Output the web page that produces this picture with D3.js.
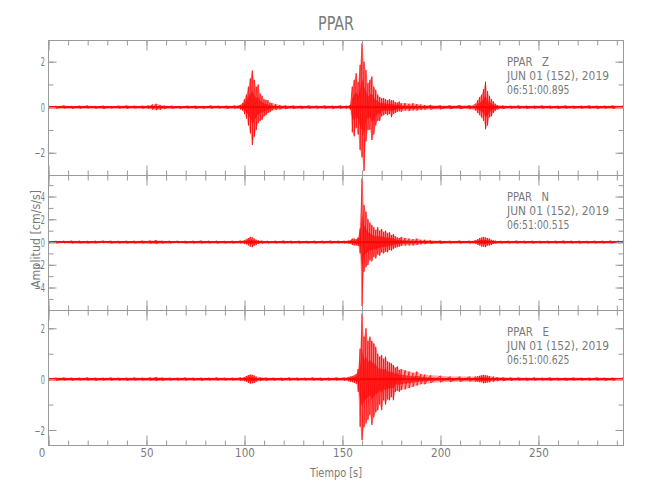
<!DOCTYPE html>
<html>
<head>
<meta charset="utf-8">
<script src="https://cdn.jsdelivr.net/npm/d3@7"></script>
<style>
  html, body { margin: 0; padding: 0; background: #fff; }
  svg { display: block; }
  text { font-family: "Liberation Sans Narrow", "DejaVu Sans Condensed", "Liberation Sans", sans-serif; fill: #7a7a7a; white-space: pre; }
</style>
</head>
<body>
<svg id="chart" width="650" height="500"></svg>
<script>
// ---------------- DATA ----------------
const title = "PPAR";
const xLabel = "Tiempo [s]";
const yLabel = "Amplitud [cm/s/s]";
const xTicksMajor = [0, 50, 100, 150, 200, 250];
const xTicksMinor = d3.range(0, 300, 10);
const xMax = 293.4;

const components = ["Z", "N", "E"];
const stationLines = [
  ["PPAR   Z", "JUN 01 (152), 2019", "06:51:00.895"],
  ["PPAR   N", "JUN 01 (152), 2019", "06:51:00.515"],
  ["PPAR   E", "JUN 01 (152), 2019", "06:51:00.625"]
];
const yDomains = [[-3.0, 2.93], [-6.02, 5.85], [-2.61, 2.70]];
const yTicksMajor = [[-2, 0, 2], [-4, -2, 0, 2, 4], [-2, 0, 2]];
const yTicksMinor = [[-2, -1, 0, 1, 2], [-5, -4, -3, -2, -1, 0, 1, 2, 3, 4, 5], [-2, -1, 0, 1, 2]];

// envelope samples: [time s, upper, lower]
const traceZ = [
  [0,0.06,-0.05],[4,0.05,-0.06],[8,0.07,-0.05],[12,0.05,-0.06],[16,0.06,-0.06],[20,0.07,-0.05],[24,0.05,-0.06],[28,0.06,-0.07],[32,0.05,-0.05],[36,0.06,-0.06],[40,0.07,-0.06],[44,0.06,-0.05],[48,0.06,-0.06],[51,0.07,-0.07],[53,0.12,-0.1],[55,0.15,-0.13],[57,0.1,-0.11],[59,0.07,-0.07],[63,0.06,-0.06],[67,0.05,-0.06],[71,0.06,-0.05],[75,0.06,-0.06],[79,0.05,-0.06],[83,0.07,-0.06],[87,0.06,-0.05],[91,0.06,-0.07],[95,0.07,-0.06],
  [98,0.1,-0.1],[99,0.18,-0.15],[100,0.35,-0.3],[101,0.55,-0.5],[102,0.9,-0.8],[103,1.26,-1.15],[104,1.61,-1.66],[105,1.2,-1.3],[106,0.9,-1.0],[107,1.0,-0.7],[108,0.6,-0.6],[109,0.5,-0.55],[110,0.35,-0.4],[111,0.32,-0.35],[112,0.3,-0.25],[113,0.2,-0.22],[114,0.18,-0.15],[116,0.14,-0.12],[118,0.1,-0.1],[121,0.08,-0.08],[125,0.07,-0.07],[129,0.06,-0.07],[133,0.07,-0.06],[137,0.06,-0.06],[141,0.07,-0.06],[145,0.06,-0.07],[149,0.07,-0.06],[152,0.06,-0.06],[154,0.1,-0.1],
  [155,0.9,-1.1],[156,1.2,-1.28],[157,1.49,-0.9],[158,1.1,-1.2],[159,1.86,-1.88],[160,2.81,-2.2],[161,2.0,-2.8],[162,1.63,-1.5],[163,1.05,-1.0],[164,1.2,-0.99],[165,1.35,-1.44],[166,0.9,-1.2],[167,0.76,-0.8],[168,0.55,-0.6],[169,0.45,-0.6],[170,0.39,-0.4],[171,0.4,-0.35],[172,0.35,-0.3],[173,0.3,-0.35],[174,0.35,-0.3],[175,0.3,-0.44],[176,0.3,-0.3],[177,0.22,-0.25],[178,0.2,-0.2],[179,0.25,-0.18],[180,0.17,-0.2],[182,0.18,-0.15],[184,0.15,-0.17],[186,0.17,-0.14],[188,0.14,-0.15],[190,0.12,-0.12],[192,0.1,-0.11],[195,0.1,-0.1],[200,0.08,-0.09],[205,0.08,-0.08],[210,0.09,-0.08],[215,0.08,-0.09],
  [218,0.15,-0.15],[219,0.3,-0.25],[220,0.45,-0.35],[221,0.55,-0.45],[222,0.8,-0.6],[223,1.12,-0.97],[224,0.7,-0.8],[225,0.5,-0.45],[226,0.35,-0.4],[227,0.25,-0.25],[228,0.15,-0.15],[229,0.1,-0.1],[232,0.07,-0.07],[236,0.06,-0.06],[240,0.07,-0.06],[244,0.06,-0.07],[248,0.06,-0.06],[252,0.07,-0.06],[256,0.06,-0.06],[260,0.06,-0.07],[264,0.07,-0.06],[268,0.06,-0.06],[272,0.06,-0.06],[276,0.07,-0.06],[280,0.06,-0.07],[284,0.06,-0.06],[288,0.07,-0.06],[293.4,0.06,-0.06]
];
const traceN = [
  [0,0.1,-0.1],[4,0.09,-0.1],[8,0.1,-0.09],[12,0.11,-0.1],[16,0.1,-0.1],[20,0.09,-0.11],[24,0.1,-0.1],[28,0.11,-0.09],[32,0.1,-0.1],[36,0.09,-0.1],[40,0.1,-0.11],[44,0.1,-0.1],[48,0.11,-0.1],[52,0.12,-0.12],[55,0.16,-0.15],[58,0.11,-0.11],[62,0.1,-0.1],[66,0.1,-0.09],[70,0.09,-0.1],[74,0.1,-0.1],[78,0.11,-0.1],[82,0.1,-0.1],[86,0.1,-0.11],[90,0.09,-0.1],[94,0.1,-0.1],[98,0.11,-0.11],
  [100,0.15,-0.15],[101,0.25,-0.2],[102,0.35,-0.3],[103,0.45,-0.4],[104,0.4,-0.45],[105,0.3,-0.3],[106,0.2,-0.25],[107,0.15,-0.15],[109,0.12,-0.12],[112,0.1,-0.1],[116,0.1,-0.1],[120,0.11,-0.1],[124,0.1,-0.1],[128,0.1,-0.11],[132,0.09,-0.1],[136,0.1,-0.1],[140,0.1,-0.1],[144,0.11,-0.1],[148,0.1,-0.1],[151,0.1,-0.11],[153,0.12,-0.12],
  [154,0.15,-0.15],[155,0.3,-0.25],[156,0.3,-0.3],[157,0.25,-0.3],[158,0.4,-0.35],[159,1.2,-1.0],[160,5.6,-5.63],[161,3.25,-2.61],[162,2.67,-2.2],[163,2.0,-2.02],[164,1.7,-1.6],[165,1.49,-1.7],[166,1.3,-1.3],[167,1.05,-1.44],[168,1.3,-1.1],[169,1.0,-1.2],[170,1.15,-0.9],[171,0.9,-1.0],[172,1.0,-0.85],[173,0.8,-0.9],[174,0.85,-0.7],[175,0.62,-0.75],[176,0.7,-0.6],[177,0.5,-0.5],[178,0.4,-0.45],[179,0.35,-0.4],[180,0.45,-0.35],[182,0.35,-0.3],[184,0.3,-0.3],[186,0.25,-0.3],[188,0.3,-0.25],[190,0.2,-0.2],[192,0.2,-0.18],[195,0.15,-0.15],[200,0.12,-0.13],[205,0.1,-0.1],[210,0.11,-0.1],[215,0.1,-0.11],
  [218,0.15,-0.15],[219,0.25,-0.25],[220,0.35,-0.3],[221,0.4,-0.4],[222,0.45,-0.4],[223,0.4,-0.45],[224,0.35,-0.3],[225,0.3,-0.3],[226,0.2,-0.25],[227,0.15,-0.15],[228,0.12,-0.12],[231,0.1,-0.1],[235,0.1,-0.1],[239,0.11,-0.1],[243,0.1,-0.1],[247,0.1,-0.11],[251,0.09,-0.1],[255,0.1,-0.1],[259,0.1,-0.1],[263,0.11,-0.1],[267,0.1,-0.1],[271,0.1,-0.11],[275,0.09,-0.1],[279,0.1,-0.1],[283,0.1,-0.1],[287,0.11,-0.1],[291,0.1,-0.1],[293.4,0.1,-0.1]
];
const traceE = [
  [0,0.05,-0.05],[4,0.05,-0.06],[8,0.06,-0.05],[12,0.05,-0.05],[16,0.05,-0.05],[20,0.06,-0.05],[24,0.05,-0.06],[28,0.05,-0.05],[32,0.06,-0.05],[36,0.05,-0.05],[40,0.05,-0.06],[44,0.06,-0.05],[48,0.05,-0.05],[52,0.06,-0.06],[55,0.08,-0.07],[58,0.06,-0.06],[62,0.05,-0.05],[66,0.05,-0.05],[70,0.06,-0.05],[74,0.05,-0.05],[78,0.05,-0.06],[82,0.05,-0.05],[86,0.06,-0.05],[90,0.05,-0.05],[94,0.05,-0.05],[98,0.06,-0.06],
  [100,0.08,-0.08],[101,0.12,-0.1],[102,0.16,-0.15],[103,0.18,-0.18],[104,0.17,-0.16],[105,0.14,-0.15],[106,0.1,-0.1],[108,0.07,-0.07],[111,0.06,-0.06],[115,0.05,-0.05],[119,0.05,-0.06],[123,0.06,-0.05],[127,0.05,-0.05],[131,0.05,-0.05],[135,0.06,-0.05],[139,0.05,-0.06],[143,0.05,-0.05],[147,0.06,-0.05],[151,0.06,-0.06],[153,0.08,-0.08],
  [154,0.1,-0.1],[155,0.12,-0.12],[156,0.15,-0.15],[157,0.2,-0.18],[158,0.4,-0.5],[159,1.2,-1.87],[160,2.58,-2.4],[161,1.67,-1.9],[162,2.0,-1.74],[163,1.5,-1.6],[164,1.67,-1.4],[165,1.5,-1.8],[166,1.4,-1.5],[167,1.27,-1.3],[168,1.0,-1.22],[169,0.88,-1.0],[170,0.95,-1.22],[171,0.8,-0.83],[172,0.88,-1.0],[173,0.7,-0.8],[174,0.65,-0.83],[175,0.62,-0.7],[176,0.55,-0.83],[177,0.45,-0.5],[178,0.5,-0.45],[179,0.36,-0.5],[180,0.4,-0.43],[182,0.35,-0.4],[184,0.3,-0.35],[186,0.25,-0.3],[188,0.3,-0.25],[190,0.2,-0.2],[192,0.18,-0.2],[195,0.15,-0.15],[200,0.13,-0.12],[205,0.1,-0.11],[210,0.1,-0.1],[215,0.1,-0.1],
  [218,0.1,-0.1],[219,0.11,-0.1],[220,0.13,-0.12],[221,0.15,-0.12],[222,0.17,-0.16],[223,0.15,-0.15],[224,0.14,-0.13],[225,0.12,-0.12],[227,0.1,-0.1],[229,0.08,-0.08],[232,0.07,-0.07],[236,0.06,-0.06],[240,0.06,-0.05],[244,0.05,-0.06],[248,0.06,-0.05],[252,0.05,-0.05],[256,0.06,-0.06],[260,0.05,-0.05],[264,0.05,-0.06],[268,0.06,-0.05],[272,0.05,-0.05],[276,0.05,-0.05],[280,0.06,-0.05],[284,0.05,-0.06],[288,0.05,-0.05],[293.4,0.05,-0.05]
];
const traces = [traceZ, traceN, traceE];

// ---------------- LAYOUT ----------------
const W = 650, H = 500;
const left = 48.5, right = 623.5;
const panelTops = [40.5, 175.5, 310.5];
const panelH = 135;
const axisColor = "#9a9a9a";
const red = "#ff0000";
const textColor = "#7a7a7a";
const stationWidths = [42, 102, 62.5];

const svg = d3.select("#chart");
svg.append("rect").attr("width", W).attr("height", H).attr("fill", "#fff");

const x = d3.scaleLinear().domain([0, xMax]).range([left, right]);

function styleAxis(g) {
  g.select(".domain").remove();
  g.selectAll(".tick line").attr("stroke", axisColor).attr("stroke-width", 1);
  g.selectAll(".tick text").attr("fill", textColor);
}

traces.forEach((data, i) => {
  const top = panelTops[i], bottom = top + panelH;
  const y = d3.scaleLinear().domain(yDomains[i]).range([bottom, top]);
  const g = svg.append("g");

  const clipId = "clip" + i;
  svg.append("clipPath").attr("id", clipId)
    .append("rect").attr("x", left).attr("y", top).attr("width", right - left).attr("height", panelH);

  const tg = g.append("g").attr("clip-path", `url(#${clipId})`);
  const area = d3.area().x(d => x(d[0])).y0(d => y(d[2])).y1(d => y(d[1]));
  tg.append("path").attr("d", area(data)).attr("fill", red).attr("fill-opacity", 0.35);
  const inner = d3.area().x(d => x(d[0])).y0(d => y(d[2] * 0.45)).y1(d => y(d[1] * 0.45));
  tg.append("path").attr("d", inner(data)).attr("fill", red).attr("fill-opacity", 0.6);
  const zz = [];
  data.forEach(d => { zz.push([d[0], d[1]]); zz.push([d[0], d[2]]); });
  const line = d3.line().x(d => x(d[0])).y(d => y(d[1]));
  tg.append("path").attr("d", line(zz)).attr("fill", "none").attr("stroke", red).attr("stroke-width", 0.8).attr("stroke-opacity", 0.9);
  const lim = 0.05 * (yDomains[i][1] - yDomains[i][0]) / 6;
  const base = d3.area().x(d => x(d[0])).y0(d => y(Math.max(d[2], -lim))).y1(d => y(Math.min(d[1], lim)));
  tg.append("path").attr("d", base(data)).attr("fill", red).attr("fill-opacity", 0.85);

  // frame
  g.append("rect").attr("x", left).attr("y", top).attr("width", right - left).attr("height", panelH)
    .attr("fill", "none").attr("stroke", axisColor).attr("stroke-width", 1);

  // x ticks inward on top and bottom
  [[d3.axisBottom, top], [d3.axisTop, bottom]].forEach(([fn, yy]) => {
    g.append("g").attr("transform", `translate(0,${yy})`)
      .call(fn(x).tickValues(xTicksMinor.filter(v => v <= xMax)).tickSize(5).tickFormat(""))
      .call(styleAxis);
    g.append("g").attr("transform", `translate(0,${yy})`)
      .call(fn(x).tickValues(xTicksMajor).tickSize(10).tickFormat(""))
      .call(styleAxis);
  });
  // y ticks inward on left and right
  [[d3.axisRight, left], [d3.axisLeft, right]].forEach(([fn, xx]) => {
    g.append("g").attr("transform", `translate(${xx},0)`)
      .call(fn(y).tickValues(yTicksMinor[i]).tickSize(5).tickFormat(""))
      .call(styleAxis);
    g.append("g").attr("transform", `translate(${xx},0)`)
      .call(fn(y).tickValues(yTicksMajor[i]).tickSize(8).tickFormat(""))
      .call(styleAxis);
  });
  // y labels
  const yl = g.append("g").attr("transform", `translate(${left},0)`)
    .call(d3.axisLeft(y).tickValues(yTicksMajor[i]).tickSize(0).tickPadding(3.5)
      .tickFormat(v => v < 0 ? "\u2212" + Math.abs(v) : String(v)))
    .call(styleAxis);
  yl.selectAll("text").attr("font-size", 11.5).attr("font-family", null).attr("dy", "0.36em")
    .attr("lengthAdjust", "spacingAndGlyphs")
    .attr("textLength", d => d < 0 ? 10.5 : 4.2);

  // station text
  const st = g.append("g");
  stationLines[i].forEach((s, k) => {
    st.append("text").attr("x", 507).attr("y", top + 25.5 + k * 14)
      .attr("font-size", 11.5)
      .attr("textLength", stationWidths[k]).attr("lengthAdjust", "spacingAndGlyphs")
      .text(s);
  });

  if (i === 2) {
    const xl = g.append("g").attr("transform", `translate(0,${bottom})`)
      .call(d3.axisBottom(x).tickValues(xTicksMajor).tickSize(0).tickPadding(3.5))
      .call(styleAxis);
    xl.selectAll("text").attr("font-size", 11.5).attr("font-family", null);
    xl.selectAll(".tick").filter(d => d === 0).select("text").attr("x", -7);
  }
});

// title
svg.append("text").attr("x", (left + right) / 2).attr("y", 30).attr("text-anchor", "middle")
  .attr("font-size", 20).attr("textLength", 36).attr("lengthAdjust", "spacingAndGlyphs")
  .attr("fill", "#8a8a8a").text(title);
// x label
svg.append("text").attr("x", (left + right) / 2).attr("y", 477).attr("text-anchor", "middle")
  .attr("font-size", 12.5).attr("textLength", 52).attr("lengthAdjust", "spacingAndGlyphs").text(xLabel);
// y label
svg.append("text").attr("transform", `translate(40,239) rotate(-90)`).attr("text-anchor", "middle")
  .attr("font-size", 12.5).attr("textLength", 98).attr("lengthAdjust", "spacingAndGlyphs").text(yLabel);
</script>
</body>
</html>
